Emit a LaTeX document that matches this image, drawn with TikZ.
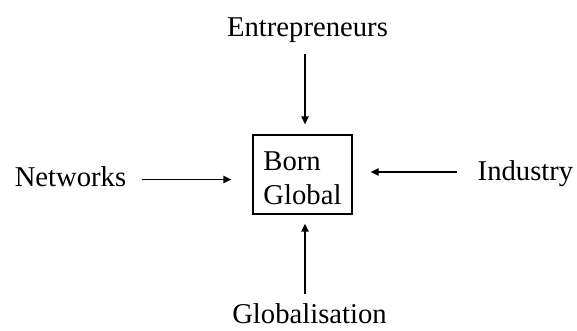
\documentclass[tikz,border=0pt]{standalone}
\usepackage{fontspec}
\setmainfont{Liberation Serif}
\usetikzlibrary{arrows.meta}
\tikzset{every picture/.style={line width=0.75pt}}
\tikzset{
  lbl/.style={inner sep=0pt, anchor=base, font=\fontsize{21.5}{26}\selectfont},
  bgbox/.style={draw, line width=1pt, align=left, inner sep=0pt, minimum width=74.25pt, minimum height=59.25pt, font=\fontsize{21.5}{25.5}\selectfont},
  arr/.style={line width=1pt, -{Triangle[length=6pt,width=5.5pt]}},
}

\begin{document}
\begin{tikzpicture}[x=0.75pt,y=0.75pt,yscale=-1,xscale=1]
	\useasboundingbox (0,0) rectangle (577,330);

	% Text Node
	\node [bgbox] (born) at (302.5,174.5) {\rule{0pt}{20pt}Born\\Global};
	% Text Node
	\node [lbl] (entr) at (307.5,36) {Entrepreneurs};
	% Text Node
	\node [lbl] (glob) at (309.5,323.5) {Globalisation};
	% Text Node
	\node [lbl] (netw) at (70.5,186) {Networks};
	% Text Node
	\node [lbl] (indu) at (525.5,180) {Industry};

	%Straight Lines
	\draw [arr, shorten <=8.5pt, shorten >=7.5pt] (entr.south -| 305,0) -- (born.north -| 305,0);
	%Straight Lines
	\draw [arr, shorten <=7pt, shorten >=6.75pt] (glob.north -| 305,0) -- (born.south -| 305,0);
	%Straight Lines
	\draw [arr, shorten <=11.25pt, shorten >=15.75pt] (netw.east |- 0,179.5) -- (born.west |- 0,179.5);
	%Straight Lines
	\draw [arr, shorten <=15pt, shorten >=13.5pt] (indu.west |- 0,172) -- (born.east |- 0,172);

\end{tikzpicture}
\end{document}
